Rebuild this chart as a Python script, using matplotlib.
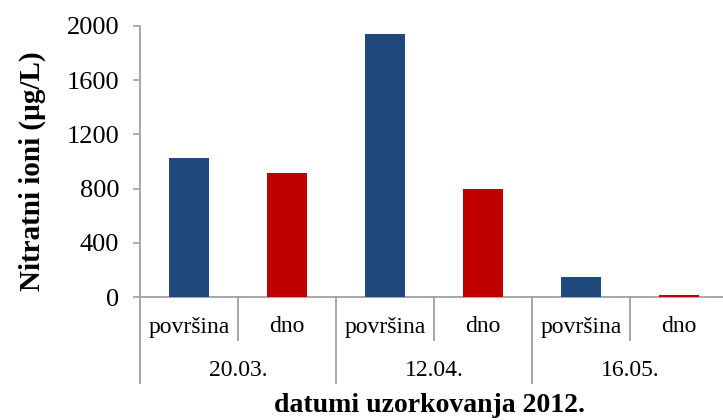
import matplotlib.pyplot as plt
from matplotlib.lines import Line2D

plt.rcParams['font.family'] = ['Liberation Serif', 'DejaVu Serif']

datumi = ["20.03.", "12.04.", "16.05."]
mjesta = ["površina", "dno"]
nitrati = [1027, 915, 1942, 795, 148, 15]
boje = ["#1F497D", "#C00000"]

fig = plt.figure(figsize=(7.23, 4.2), dpi=100)
W, H = 723, 420
# axes in pixel coords: left 140, right 723, y0 at 297, y2000 at 26
ax = fig.add_axes([140 / W, (H - 297) / H, (W - 140) / W, 271 / H])

n = len(datumi) * len(mjesta)
x = list(range(n))
ax.bar(x, nitrati, width=0.41, color=[boje[i % 2] for i in x], zorder=3)

ax.set_xlim(-0.5, n - 0.55)
ax.set_ylim(0, 2000)
ax.set_yticks([0, 400, 800, 1200, 1600, 2000])
ax.tick_params(axis='y', labelsize=19, length=5, color='#a0a0a0', width=1.2, pad=10)
ax.set_xticks([])

for s in ['top', 'right']:
    ax.spines[s].set_visible(False)
ax.spines['left'].set_color('#a0a0a0')
ax.spines['left'].set_linewidth(1.3)
ax.spines['bottom'].set_color('#a0a0a0')
ax.spines['bottom'].set_linewidth(1.3)

trans = ax.get_xaxis_transform()
visina = 271.0
y_kat = -30 / visina
y_dat = -73 / visina
y_unut = -43 / visina
y_van = -86 / visina

for i in x:
    ax.text(i, y_kat, mjesta[i % 2], transform=trans, ha='center', va='center',
            fontsize=17)
for j, d in enumerate(datumi):
    ax.text(2 * j + 0.5, y_dat, d, transform=trans, ha='center', va='center',
            fontsize=17)

# separators under the axis
for k in range(n + 1):
    xb = k - 0.5
    yb = y_van if k % 2 == 0 else y_unut
    ax.add_line(Line2D([xb, xb], [0, yb], transform=trans, color='#a0a0a0',
                       lw=1.3, clip_on=False))

ax.set_ylabel("Nitratni ioni (µg/L)", fontsize=21, fontweight='bold')
ax.yaxis.set_label_coords((46 - 140) / 583, (297 - 171) / visina)
fig.text(430 / W, (H - 405) / H, "datumi uzorkovanja 2012.", ha='center',
         va='center', fontsize=20, fontweight='bold')

fig.savefig("out.png", dpi=100)
